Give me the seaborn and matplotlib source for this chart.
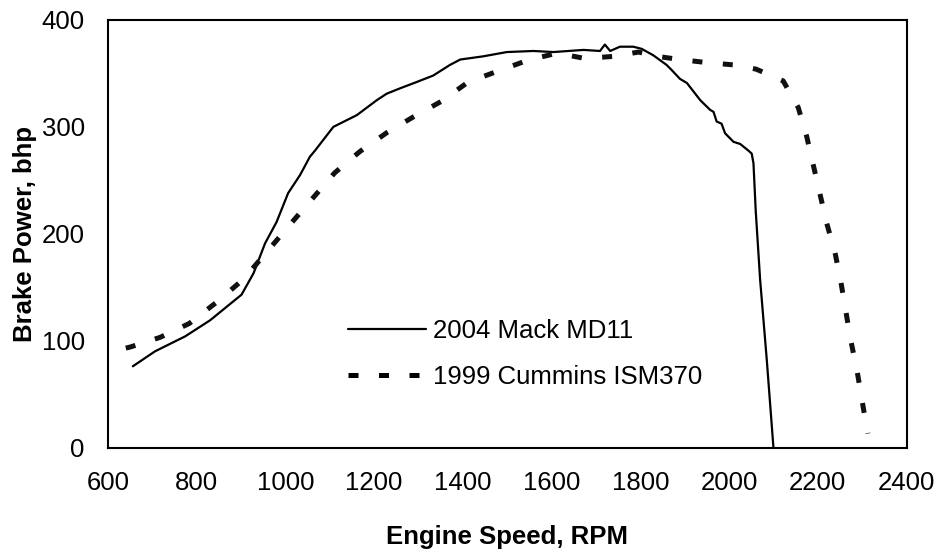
import matplotlib
matplotlib.use("Agg")
import matplotlib.pyplot as plt
import seaborn as sns
import pandas as pd

# ---- data ----
mack_label = "2004 Mack MD11"
mack_rpm = [656, 706, 774, 830, 901, 928, 954, 980, 1006, 1033, 1055, 1067, 1108,
            1161, 1206, 1228, 1258, 1296, 1333, 1371, 1394, 1446, 1499, 1559, 1604,
            1672, 1709, 1720, 1732, 1754, 1784, 1803, 1829, 1859, 1871, 1889, 1905,
            1935, 1957, 1965, 1972, 1983, 1991, 2010, 2025, 2043, 2051, 2055, 2060,
            2070, 2085, 2100]
mack_bhp = [76, 90, 104, 119, 143, 163, 191, 211, 238, 255, 272, 278, 300,
            311, 325, 331, 336, 342, 348, 358, 363, 366, 370, 371, 370,
            372, 371, 377, 371, 375, 375, 373, 367, 358, 353, 345, 341,
            325, 316, 314, 305, 303, 294, 286, 284, 278, 275, 266, 222,
            157, 82, 0]

cum_label = "1999 Cummins ISM370"
cum_rpm = [640, 650, 717, 783, 845, 904, 956, 1007, 1061, 1111, 1168, 1230, 1287,
           1352, 1412, 1478, 1544, 1612, 1675, 1741, 1796, 1837, 1889, 1953, 2010,
           2061, 2122, 2156, 2175, 2190, 2205, 2220, 2239, 2252, 2263, 2274, 2288,
           2299, 2310, 2313]
cum_bhp = [93, 94, 103, 116, 136, 157, 182, 207, 233, 257, 277, 295, 309,
           324, 342, 352, 362, 369, 364, 366, 370, 366, 363, 360, 358,
           354, 343, 318, 291, 264, 237, 210, 182, 155, 128, 101, 73,
           46, 19, 13]

x_ticks = [600, 800, 1000, 1200, 1400, 1600, 1800, 2000, 2200, 2400]
y_ticks = [0, 100, 200, 300, 400]
x_title = "Engine Speed, RPM"
y_title = "Brake Power, bhp"

# ---- style ----
sns.set_theme(style="white")
plt.rcParams["font.family"] = ["Liberation Sans", "DejaVu Sans"]
plt.rcParams["text.color"] = "black"
plt.rcParams["axes.labelcolor"] = "black"
plt.rcParams["xtick.color"] = "black"
plt.rcParams["ytick.color"] = "black"

FS = 18.5

fig = plt.figure(figsize=(9.36, 5.52), dpi=100)
ax = fig.add_axes([0.1154, 0.1893, 0.8531, 0.7745])

mack = pd.DataFrame({"rpm": mack_rpm, "bhp": mack_bhp})
cum = pd.DataFrame({"rpm": cum_rpm, "bhp": cum_bhp})

sns.lineplot(data=mack, x="rpm", y="bhp", ax=ax, sort=False, estimator=None,
             color="black", linewidth=1.6, label=mack_label)
sns.lineplot(data=cum, x="rpm", y="bhp", ax=ax, sort=False, estimator=None,
             color="#111111", linewidth=3.6, label=cum_label)
ax.lines[1].set_dashes((2.0, 4.1))
ax.lines[1].set_dash_capstyle("butt")

ax.set_xlim(600, 2400)
ax.set_ylim(0, 400)
ax.set_xticks(x_ticks)
ax.set_yticks(y_ticks)
ax.tick_params(axis="both", which="major", direction="inout", length=11.5,
               width=0.8, color="#333333", labelsize=FS, labelcolor="black")
ax.tick_params(axis="x", pad=11)
ax.tick_params(axis="y", pad=11)

for s in ax.spines.values():
    s.set_visible(True)
    s.set_color("black")
    s.set_linewidth(1.5)

ax.set_xlabel(x_title, fontsize=FS, fontweight="bold", labelpad=22, color="black")
ax.set_ylabel(y_title, fontsize=FS, fontweight="bold", labelpad=3, color="black")

leg = ax.legend(loc="upper left", bbox_to_anchor=(348 / 936, 1 - 319 / 552),
                bbox_transform=fig.transFigure, frameon=False, fontsize=FS,
                handlelength=3.05, handletextpad=0.25, labelspacing=0.85,
                borderaxespad=0, borderpad=0)
for h in leg.get_lines():
    h.set_color("black")
for t in leg.get_texts():
    t.set_color("black")

fig.savefig("out.png", dpi=100, facecolor="white")
